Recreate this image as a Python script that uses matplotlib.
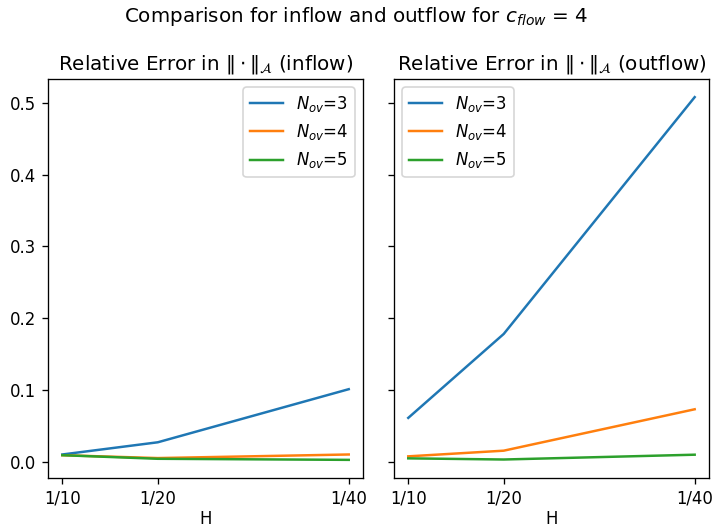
import matplotlib
matplotlib.use("Agg")
import matplotlib.pyplot as plt

H_inv = [10, 20, 40]
tick_labels = ["1/10", "1/20", "1/40"]
n_ov = [3, 4, 5]

inflow = {
    3: [0.010, 0.027, 0.101],
    4: [0.009, 0.005, 0.010],
    5: [0.009, 0.004, 0.0025],
}
outflow = {
    3: [0.061, 0.178, 0.508],
    4: [0.0074, 0.0153, 0.073],
    5: [0.0046, 0.003, 0.0097],
}

DPI = 119
fig, axes = plt.subplots(1, 2, figsize=(712 / DPI, 529 / DPI), dpi=DPI, sharey=True)
for ax, data, name, loc in [(axes[0], inflow, "inflow", "upper right"),
                            (axes[1], outflow, "outflow", "upper left")]:
    for n in n_ov:
        ax.plot(H_inv, data[n], label=r"$N_{ov}$=%d" % n)
    ax.set_xticks(H_inv)
    ax.set_xticklabels(tick_labels)
    ax.set_xlabel("H", labelpad=1.5)
    ax.set_title(r"Relative Error in $\|\cdot\|_\mathcal{A}$ (%s)" % name)
    ax.legend(loc=loc)

fig.suptitle(r"Comparison for inflow and outflow for $c_{flow}$ = 4", y=0.99)
fig.subplots_adjust(left=48 / 712, right=709 / 712, top=1 - 79 / 529,
                    bottom=1 - 478 / 529, wspace=0.098)
fig.savefig("out.png", dpi=DPI)
